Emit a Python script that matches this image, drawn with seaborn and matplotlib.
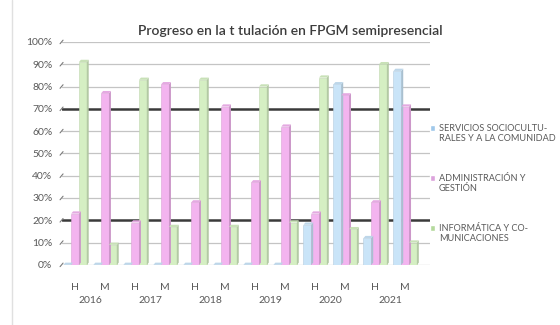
import numpy as np
import pandas as pd
import matplotlib
matplotlib.use("Agg")
import matplotlib.pyplot as plt
import matplotlib.colors as mcolors
from matplotlib.patches import Polygon, Rectangle
from matplotlib.lines import Line2D
from matplotlib.legend_handler import HandlerPatch
import seaborn as sns

# ---- data -------------------------------------------------------------
years = ["2016", "2017", "2018", "2019", "2020", "2021"]
sexes = ["H", "M"]
series = [
    "SERVICIOS SOCIOCULTU-\nRALES Y A LA COMUNIDAD",
    "ADMINISTRACIÓN Y\nGESTIÓN",
    "INFORMÁTICA Y CO-\nMUNICACIONES",
]
# shares per (year, sex) in the order 2016H, 2016M, 2017H, ...
servicios = [0.00, 0.00, 0.00, 0.00, 0.00, 0.00, 0.00, 0.00, 0.18, 0.81, 0.12, 0.87]
administracion = [0.23, 0.77, 0.19, 0.81, 0.28, 0.71, 0.37, 0.62, 0.23, 0.76, 0.28, 0.71]
informatica = [0.91, 0.09, 0.83, 0.17, 0.83, 0.17, 0.80, 0.19, 0.84, 0.16, 0.90, 0.10]
title = "Progreso en la t tulación en FPGM semipresencial"

colors = ["#c9e4f8", "#f3b4ef", "#d5efc3"]
legend_colors = ["#9fc8ea", "#dca2dc", "#b4d99c"]

# ---- long table for seaborn ------------------------------------------
cats = [f"{y} {s}" for y in years for s in sexes]
df = pd.DataFrame({
    "cat": cats * 3,
    "valor": servicios + administracion + informatica,
    "serie": [series[0]] * len(cats) + [series[1]] * len(cats) + [series[2]] * len(cats),
})

sns.set_theme(style="white")
plt.rcParams["font.family"] = ["Lato", "DejaVu Sans"]

fig = plt.figure(figsize=(5.6, 3.25), dpi=100)
ax = fig.add_axes([0.111, 0.185, 0.657, 0.686])

sns.barplot(data=df, x="cat", y="valor", hue="serie", order=cats,
            hue_order=series, palette=colors, width=0.78, saturation=1,
            legend=False, ax=ax, linewidth=0)

# pseudo-3D side and top faces derived from each bar
dx, dy = 0.065, 0.010
for p in list(ax.patches):
    x0, w, h = p.get_x(), p.get_width(), p.get_height()
    base = mcolors.to_rgb(p.get_facecolor())
    side = tuple(c * 0.84 for c in base)
    top = tuple(min(1, c * 0.94) for c in base)
    p.set_edgecolor(tuple(c * 0.9 for c in base))
    p.set_linewidth(0.4)
    ax.add_patch(Polygon([(x0 + w, 0), (x0 + w + dx, dy), (x0 + w + dx, h + dy), (x0 + w, h)],
                         closed=True, facecolor=side, edgecolor="none", zorder=p.get_zorder()))
    ax.add_patch(Polygon([(x0, h), (x0 + w, h), (x0 + w + dx, h + dy), (x0 + dx, h + dy)],
                         closed=True, facecolor=top, edgecolor="none", zorder=p.get_zorder()))

ax.set_xlim(-0.43, 11.83)
ax.set_ylim(0, 1.0)

# gridlines: light with two emphasised levels
yt = np.round(np.arange(0, 1.01, 0.1), 2)
for v in yt:
    if v in (0.2, 0.7):
        ax.axhline(v, color="#3a3a3a", lw=1.8, zorder=0.5)
    else:
        ax.axhline(v, color="#c4c4c4", lw=0.9, zorder=0.5)

ax.set_yticks(yt)
ax.set_yticklabels([f"{int(round(v * 100))}%" for v in yt], fontsize=7.5, color="#595959")
ax.set_xticks(range(len(cats)))
ax.set_xticklabels([c.split()[1] for c in cats], fontsize=7.5, color="#595959")
ax.tick_params(axis="y", length=0, pad=7)
ax.tick_params(axis="x", length=0, pad=13)
for s in ax.spines.values():
    s.set_visible(False)
ax.set_xlabel("")
ax.set_ylabel("")

# small slanted marks at the value axis
for v in yt:
    ax.add_line(Line2D([-0.43 - 0.07, -0.43 + 0.03], [v - 0.008, v + 0.008],
                       color="#7a7a7a", lw=0.8, clip_on=False))

# year labels under each H/M pair
trans = ax.get_xaxis_transform()
for i, y in enumerate(years):
    ax.text(2 * i + 0.5, -0.14, y, transform=trans, ha="center", va="top",
            fontsize=7.5, color="#595959")

fig.text(0.518, 0.905, title, ha="center", va="center", fontsize=10,
         color="#3c3c3c", fontweight="semibold")


def first_line_square(legend, orig_handle, xdescent, ydescent, width, height, fontsize):
    # square sitting beside the first line of a two-line label
    return Rectangle((-xdescent, -ydescent + 0.62 * fontsize), width, height)


handles = [Rectangle((0, 0), 1, 1, facecolor=c) for c in legend_colors]
fig.legend(handles, series, loc="upper left", bbox_to_anchor=(0.753, 0.645),
           frameon=False, fontsize=6.6, labelcolor="#595959", handlelength=0.6,
           handleheight=0.6, handletextpad=0.4, labelspacing=3.35,
           handler_map={Rectangle: HandlerPatch(patch_func=first_line_square)})

fig.add_artist(Line2D([0.021, 0.021], [0.0, 1.0], color="#e0e0e0", lw=1.0))

fig.savefig("out.png", dpi=100, facecolor="white")
